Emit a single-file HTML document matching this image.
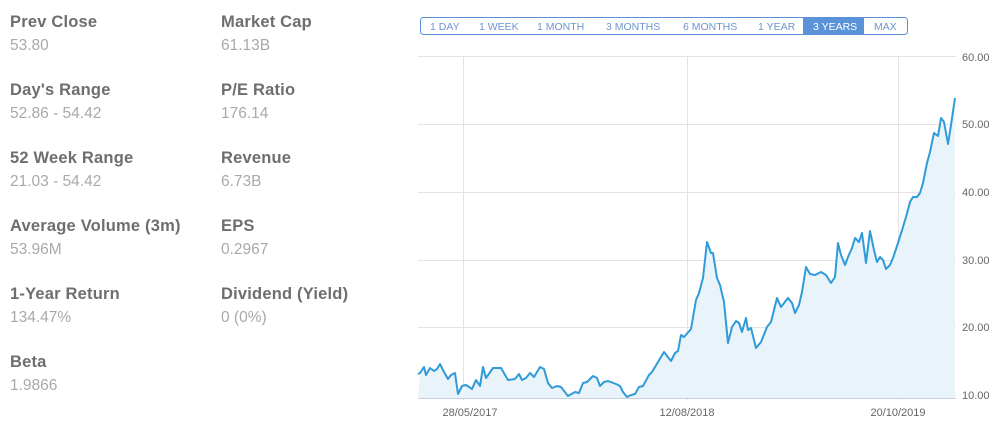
<!DOCTYPE html>
<html><head><meta charset="utf-8"><style>
html,body{margin:0;padding:0;background:#fff;width:1007px;height:431px;overflow:hidden;font-family:"Liberation Sans",sans-serif}
.l{position:absolute;font-weight:bold;font-size:16.5px;color:#6e6e6e;white-space:nowrap;letter-spacing:0.2px}
.v{position:absolute;font-size:15.5px;color:#a9a9ad;white-space:nowrap}
</style></head><body>
<div class="l" style="left:10px;top:13px">Prev Close</div><div class="v" style="left:10px;top:37px">53.80</div>
<div class="l" style="left:10px;top:81px">Day's Range</div><div class="v" style="left:10px;top:105px">52.86 - 54.42</div>
<div class="l" style="left:10px;top:149px">52 Week Range</div><div class="v" style="left:10px;top:173px">21.03 - 54.42</div>
<div class="l" style="left:10px;top:217px">Average Volume (3m)</div><div class="v" style="left:10px;top:241px">53.96M</div>
<div class="l" style="left:10px;top:285px">1-Year Return</div><div class="v" style="left:10px;top:309px">134.47%</div>
<div class="l" style="left:10px;top:353px">Beta</div><div class="v" style="left:10px;top:377px">1.9866</div>
<div class="l" style="left:221px;top:13px">Market Cap</div><div class="v" style="left:221px;top:37px">61.13B</div>
<div class="l" style="left:221px;top:81px">P/E Ratio</div><div class="v" style="left:221px;top:105px">176.14</div>
<div class="l" style="left:221px;top:149px">Revenue</div><div class="v" style="left:221px;top:173px">6.73B</div>
<div class="l" style="left:221px;top:217px">EPS</div><div class="v" style="left:221px;top:241px">0.2967</div>
<div class="l" style="left:221px;top:285px">Dividend (Yield)</div><div class="v" style="left:221px;top:309px">0 (0%)</div>
<svg width="1007" height="431" style="position:absolute;left:0;top:0" font-family="Liberation Sans, sans-serif">
<rect x="420.5" y="17.5" width="487" height="17" rx="3" fill="#fff" stroke="#5b8fd6"/>
<rect x="803" y="18" width="61" height="16" fill="#5b93d9"/>
<g font-size="10.5" fill="#6f93d0">
<text x="430" y="30">1 DAY</text><text x="479" y="30">1 WEEK</text><text x="537" y="30">1 MONTH</text>
<text x="606" y="30">3 MONTHS</text><text x="683" y="30">6 MONTHS</text><text x="758" y="30">1 YEAR</text>
<text x="813" y="30" fill="#fff">3 YEARS</text><text x="874" y="30">MAX</text></g>
<g stroke="#e3e3e6" stroke-width="1">
<line x1="418" y1="56.5" x2="956" y2="56.5"/><line x1="418" y1="124.5" x2="956" y2="124.5"/>
<line x1="418" y1="192.5" x2="956" y2="192.5"/><line x1="418" y1="260.5" x2="956" y2="260.5"/>
<line x1="418" y1="327.5" x2="956" y2="327.5"/><line x1="418" y1="395.5" x2="956" y2="395.5"/>
<line x1="463.5" y1="56" x2="463.5" y2="400"/><line x1="687.5" y1="56" x2="687.5" y2="400"/><line x1="898.5" y1="56" x2="898.5" y2="400"/>
</g>
<line x1="418" y1="398.5" x2="956" y2="398.5" stroke="#c9cfe0"/>
<g font-size="11" fill="#666">
<text x="962" y="61">60.00</text><text x="962" y="128">50.00</text><text x="962" y="196">40.00</text>
<text x="962" y="264">30.00</text><text x="962" y="331">20.00</text><text x="962" y="399">10.00</text>
<text x="470" y="416" text-anchor="middle">28/05/2017</text><text x="687" y="416" text-anchor="middle">12/08/2018</text><text x="898" y="416" text-anchor="middle">20/10/2019</text></g>
<polygon fill="#e9f3fa" points="418,398 420,373 424,367 426,375 430,368 434,371 437,369 440,364 444,372 448,379 451,375 455,373 458,394 462,386 466,385 472,389 476,380 480,386 483,367 486,378 493,368 501,368 508,380 515,379 519,374 522,380 526,378 530,373 534,377 540,367 544,369 548,383 552,388 557,386 561,387 568,396 575,392 579,393 583,383 587,382 593,376 597,378 600,386 604,382 608,381 616,384 620,386 623,392 627,397 631,395 635,394 639,387 643,386 649,375 652,372 658,362 664,352 671,361 675,353 678,351 681,335 684,337 691,329 696,300 699,293 703,278 707,242 711,253 713,253 717,278 720,285 724,302 728,343 732,327 736,321 739,323 742,332 746,318 748,330 751,328 756,348 761,342 767,327 771,322 777,298 781,307 788,298 792,303 795,313 799,305 802,292 806,267 810,274 815,275 821,272 826,275 831,283 835,277 838,243 841,255 845,265 848,257 852,248 855,238 859,242 862,233 866,263 870,231 874,250 877,262 880,257 883,260 886,269 890,265 893,258 898,243 903,227 906,217 910,202 913,197 917,197 920,193 923,183 927,163 930,152 934,133 938,136 941,118 944,122 948,144 951,125 955,98 955,398"/>
<polyline fill="none" stroke="#2f9bd8" stroke-width="2" stroke-linejoin="round" points="418,374 420,373 424,367 426,375 430,368 434,371 437,369 440,364 444,372 448,379 451,375 455,373 458,394 462,386 466,385 472,389 476,380 480,386 483,367 486,378 493,368 501,368 508,380 515,379 519,374 522,380 526,378 530,373 534,377 540,367 544,369 548,383 552,388 557,386 561,387 568,396 575,392 579,393 583,383 587,382 593,376 597,378 600,386 604,382 608,381 616,384 620,386 623,392 627,397 631,395 635,394 639,387 643,386 649,375 652,372 658,362 664,352 671,361 675,353 678,351 681,335 684,337 691,329 696,300 699,293 703,278 707,242 711,253 713,253 717,278 720,285 724,302 728,343 732,327 736,321 739,323 742,332 746,318 748,330 751,328 756,348 761,342 767,327 771,322 777,298 781,307 788,298 792,303 795,313 799,305 802,292 806,267 810,274 815,275 821,272 826,275 831,283 835,277 838,243 841,255 845,265 848,257 852,248 855,238 859,242 862,233 866,263 870,231 874,250 877,262 880,257 883,260 886,269 890,265 893,258 898,243 903,227 906,217 910,202 913,197 917,197 920,193 923,183 927,163 930,152 934,133 938,136 941,118 944,122 948,144 951,125 955,98"/>
</svg>
</body></html>
